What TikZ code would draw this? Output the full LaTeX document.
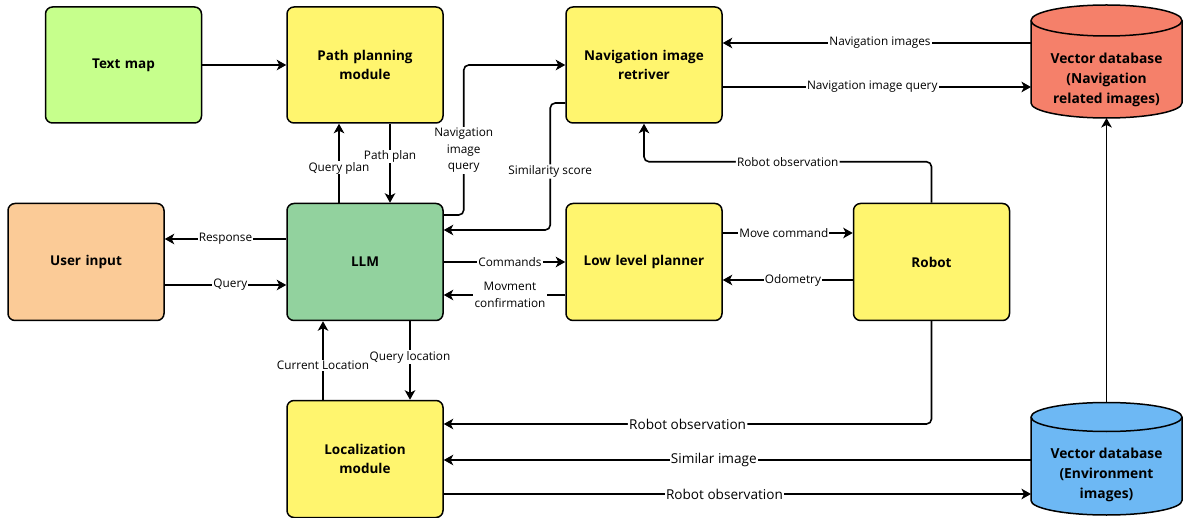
\documentclass[tikz,border=0pt]{standalone}
\usepackage{fontspec}
\setmainfont{Open Sans}
\usetikzlibrary{arrows.meta,calc}
\definecolor{cyel}{HTML}{FFF56E}
\definecolor{clime}{HTML}{C6FF8C}
\definecolor{cllm}{HTML}{92D29E}
\definecolor{corange}{HTML}{FBCB97}
\definecolor{csalmon}{HTML}{F5806A}
\definecolor{cblue}{HTML}{6DB8F4}
\begin{document}
\begin{tikzpicture}[x=1pt,y=1pt,
 box/.style={draw=black, line width=1.5pt, rounded corners=7pt, minimum width=156pt, minimum height=116pt, align=center, font=\fontsize{13.5}{19}\selectfont\bfseries, text width=140pt},
 dbtext/.style={align=center, font=\fontsize{13.8}{20}\selectfont\bfseries},
 arr/.style={line width=1.6pt, -{Stealth[length=9.5pt,width=10.5pt,inset=2.5pt]}},
 lbl/.style={fill=white, inner sep=1.2pt, font=\fontsize{11.8}{16.5}\selectfont, align=center},
 lblb/.style={lbl, font=\fontsize{13.6}{16}\selectfont}]
\useasboundingbox (0,0) rectangle (1183,-518);

% boxes
\node[box, fill=clime] (tm) at (123.5,-65) {Text map};
\node[box, fill=cyel] (pp) at (365,-65) {Path planning\\module};
\node[box, fill=cyel] (nir) at (644,-65) {Navigation image\\retriver};
\node[box, fill=corange, minimum height=117pt] (ui) at (86,-262) {User input};
\node[box, fill=cllm, minimum height=117pt] (llm) at (365,-262) {LLM};
\node[box, fill=cyel, minimum height=117pt] (llp) at (644,-262) {Low level planner};
\node[box, fill=cyel, minimum height=117pt] (rob) at (931.5,-262) {Robot};
\node[box, fill=cyel, minimum height=117pt] (loc) at (365,-459) {Localization\\module};

% cylinders
\filldraw[fill=csalmon, line width=1.5pt] (1031,-20.5) -- (1031,-103) arc[start angle=180,end angle=360,x radius=75.5,y radius=15] -- (1182,-20.5) arc[start angle=0,end angle=180,x radius=75.5,y radius=15.5] -- cycle;
\draw[line width=1.5pt] (1031,-20.5) arc[start angle=180,end angle=360,x radius=75.5,y radius=15.5];
\node[dbtext] (vdbn) at (1106.5,-80) {Vector database\\(Navigation\\related images)};
\coordinate (vdbnA) at (1031,-43);
\coordinate (vdbnB) at (1031,-87);
\coordinate (vdbnBot) at (1106.5,-118);

\filldraw[fill=cblue, line width=1.5pt] (1031,-417) -- (1031,-500.5) arc[start angle=180,end angle=360,x radius=75.5,y radius=14.5] -- (1182,-417) arc[start angle=0,end angle=180,x radius=75.5,y radius=14.5] -- cycle;
\draw[line width=1.5pt] (1031,-417) arc[start angle=180,end angle=360,x radius=75.5,y radius=14.5];
\node[dbtext] (vdbe) at (1106.5,-475) {Vector database\\(Environment\\images)};
\coordinate (vdbeA) at (1031,-460);
\coordinate (vdbeB) at (1031,-494);
\coordinate (vdbeT) at (1106.5,-402.5);

% edges
\draw[arr] (tm) -- (pp);
\draw[arr] ([xshift=25pt]pp.south) -- node[lbl,inner sep=0.6pt,pos=0.41]{Path plan} ([xshift=25pt]llm.north);
\draw[arr] ([xshift=-26pt]llm.north) -- node[lbl,inner sep=0.6pt,pos=0.44]{Query plan} ([xshift=-26pt]pp.south);

\draw[arr, rounded corners=5pt] ([yshift=47pt]llm.east) -- ++(20,0) coordinate (a1) -- node[lbl,pos=0.43]{Navigation\\image\\query} (a1 |- nir.west) -- (nir.west);
\draw[arr, rounded corners=5pt] ([yshift=-38pt]nir.west) -- ++(-15,0) |- node[lbl,pos=0.27]{Similarity score} ([yshift=32pt]llm.east);

\draw[arr] (vdbnA) -- node[lbl,pos=0.49]{Navigation images} (nir.east |- vdbnA);
\draw[arr] (nir.east |- vdbnB) -- node[lbl,pos=0.485]{Navigation image query} (vdbnB);

\draw[arr, rounded corners=5pt] (rob.north) -- ++(0,41) -| node[lbl,pos=0.25]{Robot observation} (nir.south);

\draw[arr] ([yshift=23pt]llm.west) -- node[lbl]{Response} ([yshift=23pt]ui.east);
\draw[arr] ([yshift=-23pt]ui.east) -- node[lbl,pos=0.54]{Query} ([yshift=-23pt]llm.west);

\draw[arr] (llm) -- node[lbl,pos=0.545]{Commands} (llp);
\draw[arr] ([yshift=-33pt]llp.west) -- node[lbl,pos=0.455]{Movment\\confirmation} ([yshift=-33pt]llm.east);

\draw[arr] ([yshift=29pt]llp.east) -- node[lbl,pos=0.47]{Move command} ([yshift=29pt]rob.west);
\draw[arr] ([yshift=-18pt]rob.west) -- node[lbl,pos=0.46]{Odometry} ([yshift=-18pt]llp.east);

\draw[arr] ([xshift=45pt]llm.south) -- node[lbl,pos=0.46]{Query location} ([xshift=45pt]loc.north);
\draw[arr] ([xshift=-42pt]loc.north) -- node[lbl,pos=0.44]{Current Location} ([xshift=-42pt]llm.south);

\draw[arr, rounded corners=5pt] (rob.south) |- node[lblb,pos=0.75]{Robot observation} ([yshift=35pt]loc.east);
\draw[arr] (vdbeA) -- node[lblb,pos=0.54]{Similar image} (loc.east |- vdbeA);
\draw[arr] (loc.east |- vdbeB) -- node[lblb,pos=0.478]{Robot observation} (vdbeB);

\draw[arr] (vdbeT) -- (vdbnBot);
\end{tikzpicture}
\end{document}
